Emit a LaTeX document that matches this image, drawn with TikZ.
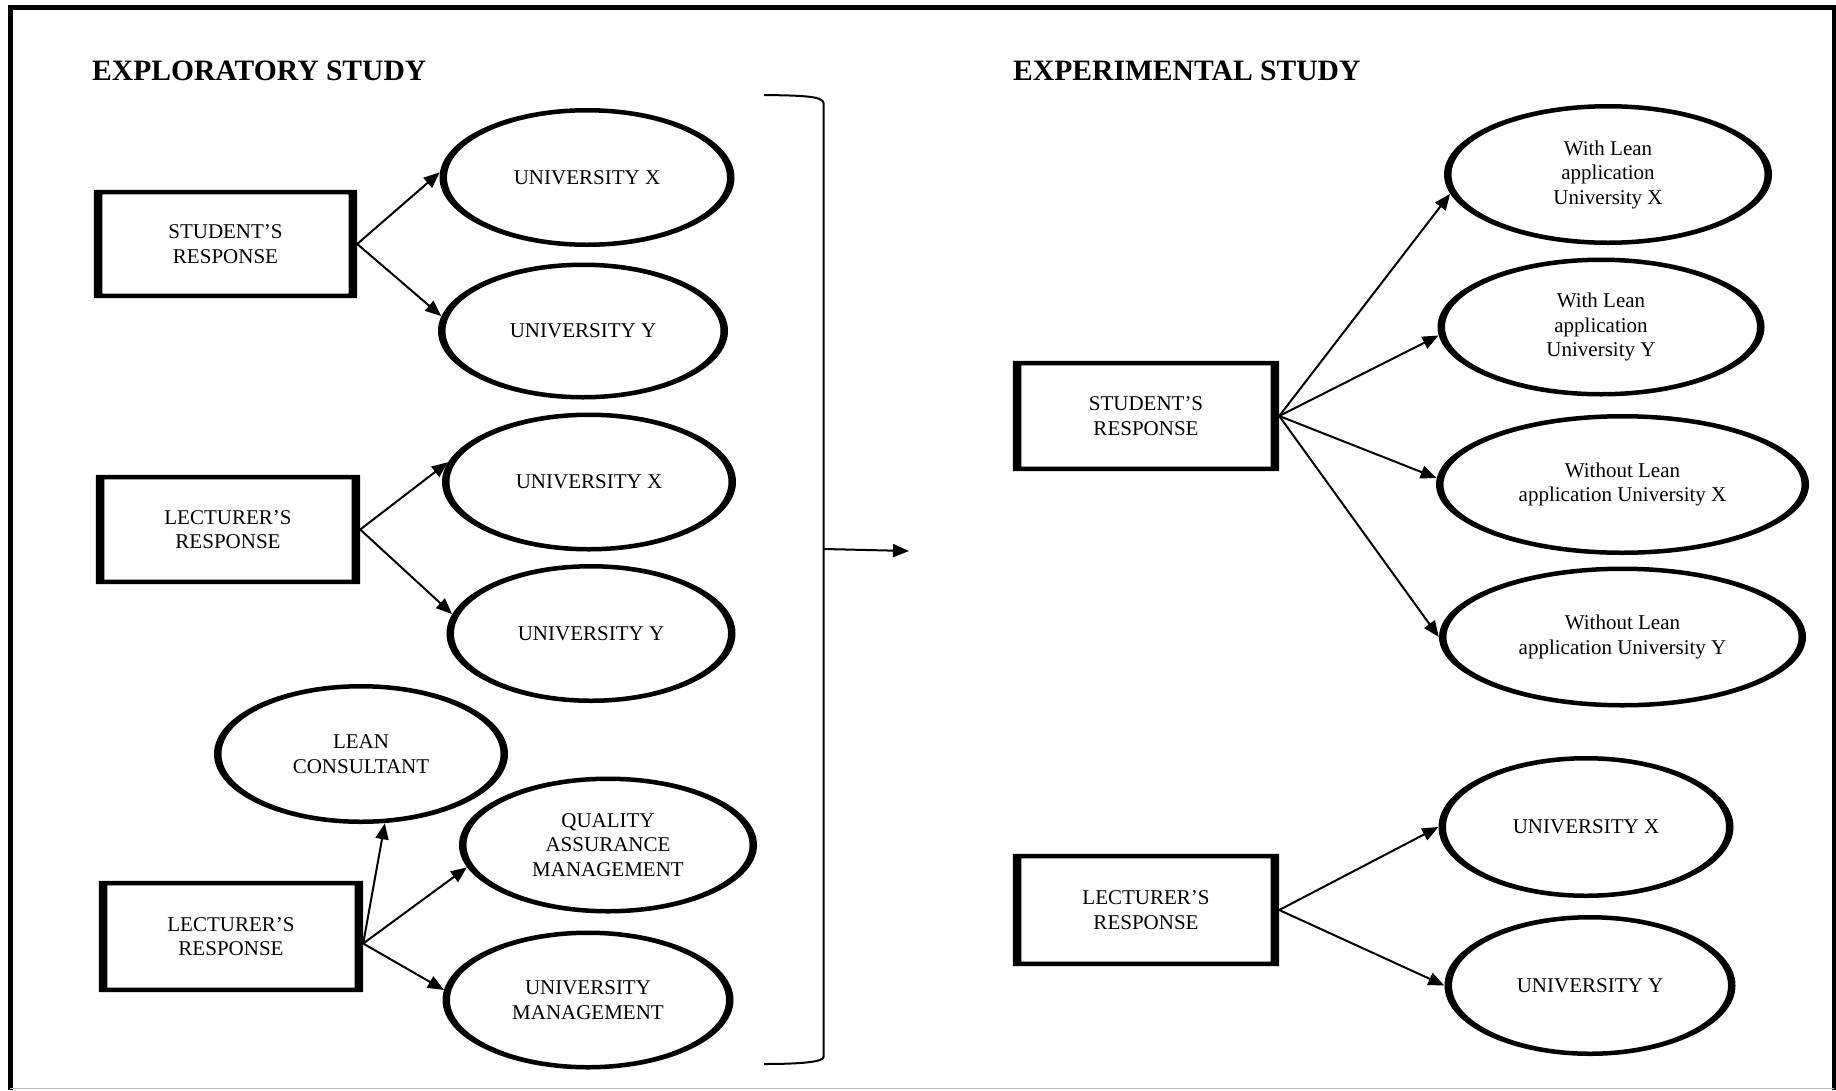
\documentclass[tikz,border=0pt]{standalone}
\usepackage{fontspec}
\setmainfont{Liberation Serif}
\usetikzlibrary{shapes.geometric,arrows.meta}

% ellipse node with a heavier stroke on the sides than on top and bottom
\newcommand\ellnode[6]{%
  \node[ell, minimum width=#4pt, minimum height=#5pt] (#1) at (#2,#3) {#6};
  \fill[even odd rule] (#1.center) ellipse [x radius=#4pt/2, y radius=#5pt/2]
    (#1.center) ellipse [x radius=#4pt/2-7.5pt, y radius=#5pt/2-4.5pt];
}
% rectangular node with the same kind of frame
\newcommand\boxnode[6]{%
  \node[box, minimum width=#4pt, minimum height=#5pt] (#1) at (#2,#3) {#6};
  \fill[even odd rule] (#1.south west) rectangle (#1.north east)
    ([xshift=8.5pt,yshift=4.5pt]#1.south west) rectangle ([xshift=-8.5pt,yshift=-4.5pt]#1.north east);
}

\tikzset{
  txt/.style={font=\fontsize{21pt}{24.5pt}\selectfont, align=center},
  ell/.style={ellipse, inner sep=0pt, txt},
  box/.style={rectangle, inner sep=0pt, txt},
  heading/.style={anchor=base west, inner sep=0pt, font=\fontsize{29.6pt}{34pt}\selectfont\bfseries},
  conn/.style={line width=2pt, -{Triangle[length=16pt,width=13pt]}},
}

\begin{document}
\begin{tikzpicture}[x=1pt,y=-1pt]
\useasboundingbox (0,0) rectangle (1836,1090);

% outer frame
\draw[line width=5pt] (10,1090) -- (10,7) -- (1834,7) -- (1834,1090);
\draw[gray!55, line width=1.5pt] (10,1088.5) -- (1834,1088.5);

% headings
\node[heading] (hexp) at (92,80) {EXPLORATORY STUDY};
\node[heading] (hexm) at (1013,80) {EXPERIMENTAL STUDY};

% ---- exploratory study ----
\boxnode{sr1}{225.5}{244}{263}{108}{STUDENT’S\\RESPONSE}
\ellnode{ux1}{587}{177.5}{295}{139}{UNIVERSITY X}
\ellnode{uy1}{583}{331}{290}{137}{UNIVERSITY Y}

\boxnode{lr1}{228}{529.5}{264}{109}{LECTURER’S\\RESPONSE}
\ellnode{ux2}{589}{482}{294}{139}{UNIVERSITY X}
\ellnode{uy2}{591}{633.5}{289}{139}{UNIVERSITY Y}

\boxnode{lr2}{231}{936.5}{264}{111}{LECTURER’S\\RESPONSE}
\ellnode{lean}{361}{754}{294}{140}{LEAN\\CONSULTANT}
\ellnode{qam}{608}{845}{298}{137}{QUALITY\\ASSURANCE\\MANAGEMENT}
\ellnode{um}{588}{1000}{291}{139}{UNIVERSITY\\MANAGEMENT}

\draw[conn] (sr1.east) -- (ux1.178);
\draw[conn] (sr1.east) -- (uy1.174);
\draw[conn] (lr1.east) -- (ux2.172);
\draw[conn] (lr1.east) -- (uy2.172);
\coordinate (lr2out) at ([yshift=-7pt]lr2.east);
\draw[conn] (lr2out) -- (lean.289);
\draw[conn] (lr2out) -- (qam.189);
\draw[conn] (lr2out) -- (um.176);

% bracket grouping the exploratory study
\draw[line width=2pt] (764,95) .. controls (800,95.5) and (823.5,96) .. (823.5,103)
  -- (823.5,1057) .. controls (823.5,1062) and (800,1064) .. (764,1064);
\coordinate (brk) at (824,549);
\coordinate (brkend) at (909,551);
\draw[conn] (brk) -- (brkend);

% ---- experimental study ----
\boxnode{sr2}{1146}{416}{266}{110}{STUDENT’S\\RESPONSE}
\ellnode{wlx}{1608}{174.5}{328}{141}{With Lean\\application\\University X}
\ellnode{wly}{1601}{327}{327}{139}{With Lean\\application\\University Y}
\ellnode{wolx}{1622.5}{484.5}{373}{141}{Without Lean\\application University X}
\ellnode{woly}{1622.5}{637}{367}{141}{Without Lean\\application University Y}

\boxnode{lr3}{1146}{910}{266}{112}{LECTURER’S\\RESPONSE}
\ellnode{ux3}{1586}{827}{295}{142}{UNIVERSITY X}
\ellnode{uy3}{1590}{985.5}{291}{141}{UNIVERSITY Y}

\draw[conn] (sr2.east) -- (wlx.187);
\draw[conn] (sr2.east) -- (wly.183);
\draw[conn] (sr2.east) -- (wolx.178);
\draw[conn] (sr2.east) -- (woly.180);
\draw[conn] (lr3.east) -- (ux3.180);
\draw[conn] (lr3.east) -- (uy3.180);
\end{tikzpicture}
\end{document}
